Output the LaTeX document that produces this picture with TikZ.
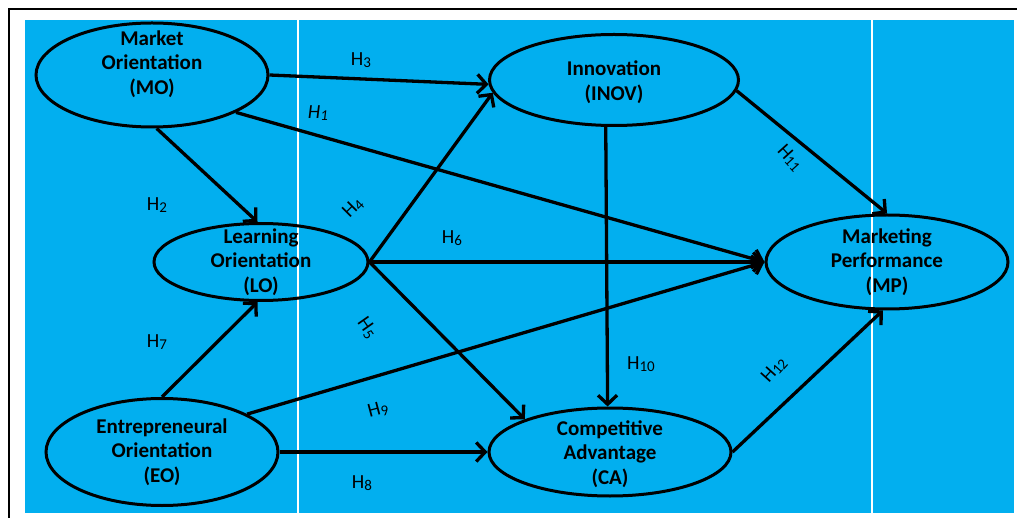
\documentclass[tikz,border=0pt]{standalone}
\usepackage{fontspec}
\setmainfont{Carlito}
\usetikzlibrary{shapes.geometric,arrows.meta}
\definecolor{skyblue}{RGB}{2,175,239}
\newcommand{\hlab}[1]{H\raisebox{-.1em}{\fontsize{15}{15}\selectfont #1}}

\begin{document}
\begin{tikzpicture}[x=1pt,y=-1pt,
  vlabel/.style={align=center,font=\fontsize{21}{24.5}\selectfont\bfseries},
  ellip/.style={draw=black,line width=3pt,ellipse,inner sep=0pt},
  arr/.style={line width=3.3pt,-{Straight Barb[length=9pt,width=19pt]}},
  hyp/.style={font=\fontsize{20}{22}\selectfont,inner sep=1pt}]
  \useasboundingbox (0,0) rectangle (1017,518);
  \fill[white] (0,0) rectangle (1017,518);
  \fill[skyblue] (25,20) rectangle (1014,513);
  \draw[white,line width=1.5pt] (298,20) -- (298,513);
  \draw[white,line width=1.5pt] (872,20) -- (872,513);
  \draw[line width=2pt] (8,9) -- (1017,9);
  \draw[line width=2pt] (9,9) -- (9,518);

  \node[ellip,minimum width=232pt,minimum height=104pt,label={[vlabel,yshift=11pt]center:Market\\Orientation\\(MO)}] (mo) at (152,75) {};
  \node[ellip,minimum width=249pt,minimum height=91pt,label={[vlabel,yshift=-2pt]center:Innovation\\(INOV)}] (inov) at (614,80) {};
  \node[ellip,minimum width=214pt,minimum height=77pt,label={[vlabel]center:Learning\\Orientation\\(LO)}] (lo) at (261,262) {};
  \node[ellip,minimum width=242pt,minimum height=94pt,label={[vlabel]center:Marketing\\Performance\\(MP)}] (mp) at (887,262) {};
  \node[ellip,minimum width=232pt,minimum height=107pt,label={[vlabel]center:Entrepreneural\\Orientation\\(EO)}] (eo) at (162,452) {};
  \node[ellip,minimum width=242pt,minimum height=88pt,label={[vlabel,yshift=-2pt]center:Competitive\\Advantage\\(CA)}] (ca) at (610,452) {};

  \draw[arr] (mo.east) -- (inov.182);
  \draw[arr] (mo.-24) -- (mp.west);
  \draw[arr] (mo.-85) -- (lo.95);
  \draw[arr] (lo.east) -- (inov.186);
  \draw[arr] (lo.east) -- (mp.west);
  \draw[arr] (lo.east) -- (ca.159);
  \draw[arr] (eo.north) -- (lo.265);
  \draw[arr] (eo.24) -- (mp.west);
  \draw[arr] (eo.east) -- (ca.west);
  \draw[arr] (inov.260) -- (ca.93);
  \draw[arr] (inov.-5) -- (mp.north);
  \draw[arr] (ca.east) -- (mp.265);

  \node[hyp] (h3) at (361,60) {\hlab{3}};
  \node[hyp] (h1) at (318,113) {\itshape\hlab{1}};
  \node[hyp] (h2) at (157,205) {\hlab{2}};
  \node[hyp,rotate=45] (h4) at (353,208) {\hlab{4}};
  \node[hyp] (h6) at (452,238) {\hlab{6}};
  \node[hyp,rotate=-55] (h5) at (367,328) {\hlab{5}};
  \node[hyp] (h7) at (157,342) {\hlab{7}};
  \node[hyp,rotate=15] (h9) at (378,410) {\hlab{9}};
  \node[hyp] (h8) at (362,483) {\hlab{8}};
  \node[hyp] (h10) at (641,364) {\hlab{10}};
  \node[hyp,rotate=-48] (h11) at (790,158) {\hlab{11}};
  \node[hyp,rotate=48] (h12) at (774,370) {\hlab{12}};
\end{tikzpicture}
\end{document}
